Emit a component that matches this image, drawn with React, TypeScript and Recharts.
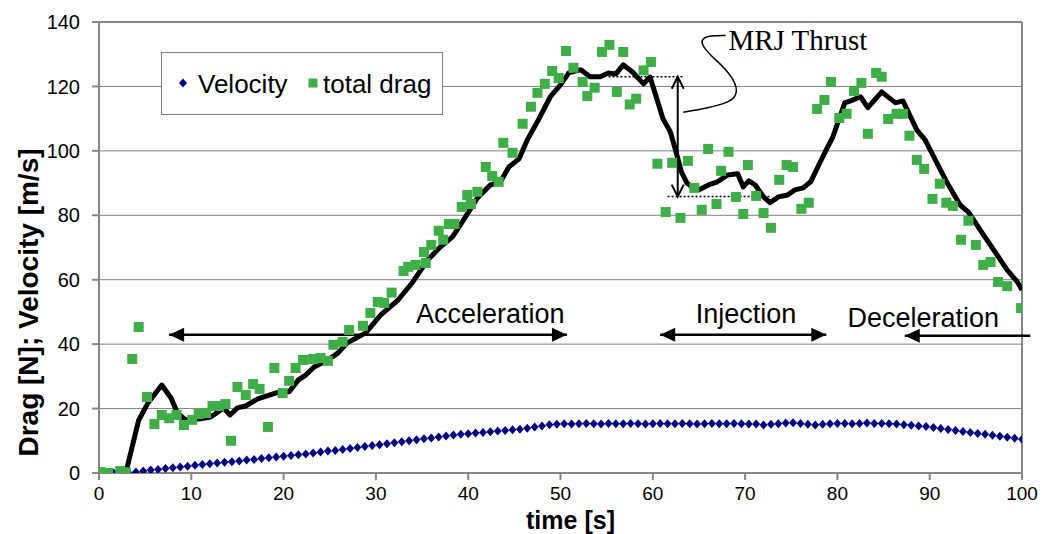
import { ComposedChart, Line, Scatter, XAxis, YAxis, CartesianGrid, ReferenceLine, ReferenceDot } from 'recharts'

const SANS = '"Liberation Sans", Arial, sans-serif'
const SERIF = '"Liberation Serif", "Times New Roman", serif'

const xTicks = [0, 10, 20, 30, 40, 50, 60, 70, 80, 90, 100]
const yTicks = [0, 20, 40, 60, 80, 100, 120, 140]

// velocity sampled every 0.8 s
const velocityStep = 0.8
const velocityValues = [
  0, 0, 0, 0, 0.1, 0.3, 0.6, 0.9, 1.1, 1.4,
  1.6, 1.9, 2.1, 2.4, 2.6, 2.9, 3.1, 3.3, 3.5, 3.7,
  4.0, 4.2, 4.5, 4.7, 5.0, 5.2, 5.4, 5.7, 5.9, 6.2,
  6.5, 6.8, 7.0, 7.3, 7.6, 7.9, 8.2, 8.5, 8.8, 9.1,
  9.4, 9.7, 10.0, 10.3, 10.6, 10.9, 11.2, 11.5, 11.8, 12.0,
  12.2, 12.4, 12.6, 12.8, 13.0, 13.2, 13.4, 13.6, 13.9, 14.3,
  14.6, 15.0, 15.1, 15.3, 15.2, 15.3, 15.4, 15.3, 15.2, 15.4,
  15.3, 15.3, 15.4, 15.3, 15.2, 15.3, 15.4, 15.3, 15.3, 15.4,
  15.3, 15.2, 15.3, 15.4, 15.3, 15.3, 15.4, 15.3, 15.2, 15.2,
  14.9, 15.1, 15.3, 15.5, 15.6, 15.4, 15.1, 14.9, 15.1, 15.3,
  15.4, 15.4, 15.3, 15.4, 15.5, 15.4, 15.4, 15.3, 15.2, 15.0,
  14.8, 14.6, 14.4, 14.1, 13.8, 13.5, 13.2, 12.9, 12.6, 12.3,
  12.0, 11.7, 11.4, 11.1, 10.8, 10.5,
]

const dragTime = [
  0.2, 1.0, 2.3, 2.9, 3.6, 4.3, 5.2, 6.0, 6.8, 7.6,
  8.4, 9.2, 10.1, 10.8, 11.6, 12.3, 13.0, 13.7, 14.3, 15.0,
  15.9, 16.7, 17.4, 18.3, 19.0, 19.9, 20.6, 21.3, 22.1, 23.2,
  24.0, 24.8, 25.4, 26.4, 27.1, 28.6, 29.4, 30.2, 30.9, 31.7,
  33.0, 33.5, 34.3, 35.2, 35.4, 36.0, 36.8, 37.3, 37.9, 38.5,
  39.3, 39.9, 40.3, 41.0, 41.9, 42.6, 43.3, 43.8, 44.8, 45.9,
  46.8, 47.5, 48.3, 49.1, 49.8, 50.6, 51.4, 52.4, 52.9, 53.7,
  54.5, 55.3, 56.1, 56.8, 57.5, 58.2, 59.0, 59.8, 60.5, 61.4,
  62.1, 63.0, 63.8, 64.5, 65.3, 66.0, 66.9, 67.4, 68.2, 69.0,
  69.8, 70.3, 71.2, 72.0, 72.8, 73.7, 74.5, 75.2, 76.1, 76.9,
  77.8, 78.6, 79.3, 80.2, 81.0, 81.8, 82.6, 83.3, 84.2, 84.8,
  85.5, 86.4, 87.1, 87.8, 88.6, 89.4, 90.3, 91.1, 91.8, 92.5,
  93.4, 94.2, 95.0, 95.8, 96.6, 97.4, 98.4, 99.9,
]
const dragValue = [
  0.3, 0, 0.6, 0.2, 35.4, 45.3, 23.6, 15.2, 18.0, 17.0,
  18.0, 14.9, 16.5, 18.3, 18.6, 20.8, 20.8, 21.4, 10.0, 26.7,
  24.2, 27.6, 26.1, 14.3, 32.6, 24.8, 28.6, 32.6, 35.1, 35.4,
  35.7, 34.8, 39.8, 40.7, 44.4, 45.7, 49.7, 53.1, 52.8, 56.0,
  62.7, 64.0, 64.6, 68.6, 65.2, 70.8, 75.2, 72.4, 77.3, 77.3,
  82.6, 86.3, 83.5, 87.3, 95.0, 92.2, 90.4, 102.5, 99.4, 108.4,
  113.7, 118.0, 120.8, 124.8, 122.6, 131.0, 125.8, 121.4, 117.0, 119.6,
  130.7, 132.9, 118.3, 130.7, 114.4, 116.2, 125.0, 127.6, 96.0, 81.0,
  96.3, 79.2, 96.9, 88.5, 81.7, 100.6, 83.5, 93.8, 99.7, 85.7,
  80.4, 95.6, 86.0, 80.7, 76.1, 91.0, 95.6, 95.0, 82.0, 83.9,
  113.0, 115.8, 121.4, 110.2, 111.5, 118.6, 121.1, 105.3, 124.2, 123.0,
  109.9, 111.5, 111.5, 104.7, 97.2, 94.4, 85.1, 89.8, 83.9, 82.9,
  72.4, 78.3, 70.8, 64.6, 65.5, 59.3, 58.0, 51.2,
]

const thrustTime = [
  2.9, 4.3, 5.3, 6.8, 7.8, 8.5, 9.4, 11.0, 12.1, 13.5,
  14.2, 15.0, 15.9, 17.2, 19.2, 20.6, 21.6, 22.4, 23.3, 24.8,
  25.9, 26.9, 28.9, 30.5, 32.4, 34.0, 35.6, 37.0, 38.3, 39.5,
  41.0, 42.4, 43.5, 44.4, 45.5, 46.4, 47.6, 48.9, 50.0, 50.9,
  52.2, 53.2, 54.3, 55.2, 56.0, 56.8, 57.8, 59.0, 59.7, 60.3,
  61.1, 61.9, 62.4, 63.1, 63.7, 64.4, 65.0, 66.2, 67.0, 68.1,
  69.2, 69.8, 70.4, 71.1, 72.0, 72.7, 73.6, 74.6, 75.4, 76.3,
  77.1, 78.1, 78.9, 79.5, 80.8, 81.5, 82.5, 83.3, 84.8, 86.3,
  87.1, 88.6, 89.5, 90.9, 91.9, 93.3, 94.2, 95.7, 97.3, 98.4,
  99.5, 100,
]
const thrustValue = [
  0, 16.4, 21.7, 27.3, 23.3, 18.6, 16.5, 16.8, 17.4, 20.2,
  18.0, 20.2, 20.8, 23.0, 24.9, 25.2, 28.9, 30.4, 32.9, 35.1,
  37.3, 40.4, 43.5, 49.0, 53.7, 59.3, 66.1, 70.2, 73.3, 78.6,
  85.4, 89.4, 90.4, 95.0, 97.5, 103.4, 109.6, 116.8, 120.5, 124.2,
  125.2, 123.0, 123.0, 124.2, 123.9, 126.7, 124.5, 120.8, 122.9, 117.4,
  110.0, 105.9, 100.9, 93.5, 90.0, 88.5, 87.9, 89.6, 90.4, 92.5,
  92.9, 88.8, 90.7, 89.4, 85.7, 83.9, 85.7, 86.3, 87.9, 88.5,
  90.4, 96.3, 100.9, 104.3, 114.9, 115.6, 116.8, 113.4, 118.3, 114.9,
  115.5, 106.5, 103.4, 95.6, 90.0, 83.2, 81.0, 74.5, 67.7, 63.0,
  59.3, 56.8,
]

// callout curve from the "MRJ Thrust" label to the double arrow
const leaderTime = [67.9, 66.2, 65.3, 65.3, 66.2, 68.0, 69.1, 69.1, 68.0, 65.9, 63.3]
const leaderValue = [135.8, 135.8, 134.8, 132.9, 129.8, 125.2, 120.5, 116.9, 114.8, 113.3, 112.0]

const velocityData = velocityValues.map((y, i) => ({ x: +(i * velocityStep).toFixed(2), y }))
const dragData = dragTime.map((x, i) => ({ x, y: dragValue[i] }))
const thrustData = thrustTime.map((x, i) => ({ x, y: thrustValue[i] }))
const leaderData = leaderTime.map((x, i) => ({ x, y: leaderValue[i] }))

const NAVY = '#000080'
const GREEN = '#3FAE49'
const AXIS = '#868686'

const Diamond = (p: any) => (
  <polygon
    points={`${p.cx},${p.cy - 4.5} ${p.cx + 4},${p.cy} ${p.cx},${p.cy + 4.5} ${p.cx - 4},${p.cy}`}
    fill={NAVY}
  />
)
const Square = (p: any) => <rect x={p.cx - 5} y={p.cy - 5} width={10} height={10} fill={GREEN} />

function arrowShape(start: boolean, end: boolean, open = false) {
  return (p: any) => {
    const { x1, y1, x2, y2 } = p
    const dx = x2 - x1
    const dy = y2 - y1
    const len = Math.hypot(dx, dy) || 1
    const ux = dx / len
    const uy = dy / len
    const L = open ? 12 : 15
    const W = open ? 6 : 7
    const head = (tx: number, ty: number, dirx: number, diry: number, key: string) => {
      const bx = tx - dirx * L
      const by = ty - diry * L
      const pts = `${bx - diry * W},${by + dirx * W} ${tx},${ty} ${bx + diry * W},${by - dirx * W}`
      return open ? (
        <polyline key={key} points={pts} fill="none" stroke="#000" strokeWidth={2} />
      ) : (
        <polygon key={key} points={pts} fill="#000" />
      )
    }
    return (
      <g>
        <line x1={x1} y1={y1} x2={x2} y2={y2} stroke="#000" strokeWidth={open ? 2 : 2.5} />
        {start && head(x1, y1, -ux, -uy, 's')}
        {end && head(x2, y2, ux, uy, 'e')}
      </g>
    )
  }
}

const textShape = (label: string, anchor: string, family: string, size: number) => (p: any) => (
  <text x={p.cx} y={p.cy} textAnchor={anchor} fontFamily={family} fontSize={size} fill="#000">
    {label}
  </text>
)

const yLabel = (props: any) => {
  const vb = props.viewBox
  const cx = vb.x + 28
  const cy = vb.y + vb.height / 2 + 55
  return (
    <text
      x={cx}
      y={cy}
      transform={`rotate(-90 ${cx} ${cy})`}
      textAnchor="middle"
      dominantBaseline="central"
      fontFamily={SANS}
      fontWeight="bold"
      fontSize={28}
      fill="#000"
    >
      Drag [N]; Velocity [m/s]
    </text>
  )
}

const xLabel = (props: any) => {
  const vb = props.viewBox
  return (
    <text
      x={vb.x + vb.width / 2 + 10}
      y={vb.y + 55.5}
      textAnchor="middle"
      fontFamily={SANS}
      fontWeight="bold"
      fontSize={25}
      fill="#000"
    >
      time [s]
    </text>
  )
}

export default function App() {
  return (
    <div style={{ position: 'absolute', left: 0, top: 0, width: 1045, height: 534, background: '#fff' }}>
      <ComposedChart width={1045} height={534} margin={{ top: 22, right: 23, bottom: 0, left: 0 }}>
        <CartesianGrid vertical={false} stroke="#808080" strokeWidth={1} />
        <XAxis
          type="number"
          dataKey="x"
          domain={[0, 100]}
          ticks={xTicks}
          allowDataOverflow
          height={61}
          tickSize={7}
          tickMargin={7}
          axisLine={{ stroke: AXIS, strokeWidth: 2 }}
          tickLine={{ stroke: AXIS, strokeWidth: 2 }}
          tick={{ fill: '#000', fontSize: 19, fontFamily: SANS }}
          label={xLabel}
        />
        <YAxis
          type="number"
          dataKey="y"
          domain={[0, 140]}
          ticks={yTicks}
          allowDataOverflow
          width={99}
          tickSize={7}
          tickMargin={12}
          axisLine={{ stroke: AXIS, strokeWidth: 2 }}
          tickLine={{ stroke: AXIS, strokeWidth: 2 }}
          tick={{ fill: '#000', fontSize: 20, fontFamily: SANS }}
          label={yLabel}
        />
        <ReferenceLine y={140} stroke={AXIS} strokeWidth={2} />
        <ReferenceLine x={100} stroke={AXIS} strokeWidth={2} />

        <Scatter name="Velocity" data={velocityData} dataKey="y" shape={Diamond} isAnimationActive={false} />
        <Scatter name="total drag" data={dragData} dataKey="y" shape={Square} isAnimationActive={false} />
        <Line
          name="MRJ Thrust"
          data={thrustData}
          dataKey="y"
          type="linear"
          stroke="#000"
          strokeWidth={5}
          strokeLinejoin="round"
          dot={false}
          isAnimationActive={false}
        />
        <Line data={leaderData} dataKey="y" type="basis" stroke="#000" strokeWidth={1.5} dot={false} isAnimationActive={false} />

        {/* thrust span markers */}
        <ReferenceLine segment={[{ x: 55.2, y: 123 }, { x: 63.2, y: 123 }]} stroke="#000" strokeWidth={1.5} strokeDasharray="2 2" />
        <ReferenceLine segment={[{ x: 61.6, y: 85.8 }, { x: 72.9, y: 85.8 }]} stroke="#000" strokeWidth={1.5} strokeDasharray="2 2" />
        <ReferenceLine segment={[{ x: 62.7, y: 123 }, { x: 62.7, y: 85.8 }]} shape={arrowShape(true, true, true)} />

        {/* phase arrows */}
        <ReferenceLine segment={[{ x: 7.6, y: 42.9 }, { x: 50.7, y: 42.9 }]} shape={arrowShape(true, true)} />
        <ReferenceLine segment={[{ x: 60.8, y: 42.9 }, { x: 78.8, y: 42.9 }]} shape={arrowShape(true, true)} />
        <ReferenceLine segment={[{ x: 87.3, y: 42.6 }, { x: 100.9, y: 42.6 }]} ifOverflow="visible" shape={arrowShape(true, false)} />

        <ReferenceDot x={42.4} y={46.6} r={0} shape={textShape('Acceleration', 'middle', SANS, 27)} />
        <ReferenceDot x={70.1} y={46.6} r={0} shape={textShape('Injection', 'middle', SANS, 27)} />
        <ReferenceDot x={89.3} y={45.3} r={0} shape={textShape('Deceleration', 'middle', SANS, 27)} />
        <ReferenceDot x={68.2} y={131.4} r={0} shape={textShape('MRJ Thrust', 'start', SERIF, 29)} />
      </ComposedChart>

      {/* legend */}
      <div
        style={{
          position: 'absolute',
          left: 161,
          top: 52,
          width: 280,
          height: 61,
          border: '1px solid #7f7f7f',
          background: '#fff',
          fontFamily: SANS,
          fontSize: 26,
          lineHeight: '26px',
          color: '#000',
        }}
      >
        <svg width={10} height={10} style={{ position: 'absolute', left: 16, top: 25 }}>
          <polygon points="5,0.5 9,5 5,9.5 1,5" fill={NAVY} />
        </svg>
        <span style={{ position: 'absolute', left: 36, top: 18, whiteSpace: 'nowrap' }}>Velocity</span>
        <svg width={10} height={10} style={{ position: 'absolute', left: 146, top: 25 }}>
          <rect x={0.5} y={0.5} width={9} height={9} fill={GREEN} />
        </svg>
        <span style={{ position: 'absolute', left: 161, top: 18, whiteSpace: 'nowrap' }}>total drag</span>
      </div>
    </div>
  )
}
